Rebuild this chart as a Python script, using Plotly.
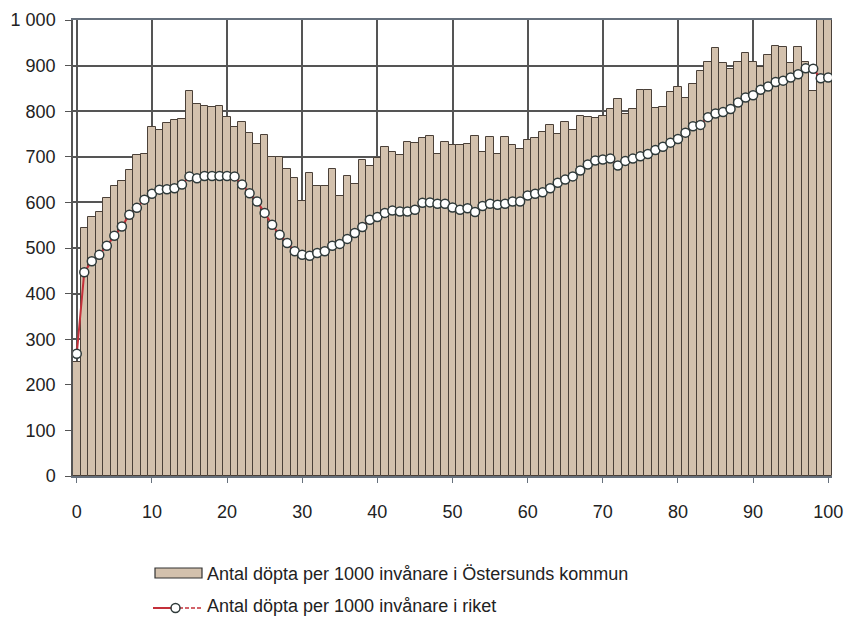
import plotly.graph_objects as go

ages = list(range(0, 101))

ostersund = [
    250, 544, 569, 580, 609, 635, 646, 672, 704, 707,
    766, 758, 775, 781, 782, 845, 815, 812, 809, 812,
    788, 765, 777, 753, 728, 748, 699, 699, 673, 653,
    602, 664, 636, 636, 674, 613, 659, 640, 693, 679,
    698, 722, 711, 704, 733, 731, 741, 746, 707, 733,
    725, 725, 729, 746, 711, 744, 707, 744, 725, 718,
    737, 742, 755, 769, 749, 776, 758, 789, 788, 786,
    789, 804, 826, 793, 804, 847, 847, 807, 810, 842,
    854, 830, 859, 889, 907, 939, 906, 893, 907, 928,
    907, 896, 924, 944, 941, 906, 941, 907, 845, 1080,
    1080,
]

riket = [
    268, 447, 471, 485, 505, 527, 547, 573, 588, 606,
    619, 628, 629, 631, 639, 657, 653, 658, 658, 658,
    658, 657, 639, 620, 602, 577, 551, 529, 511, 493,
    485, 483, 489, 493, 505, 509, 520, 533, 546, 562,
    568, 577, 582, 580, 580, 584, 599, 600, 597, 597,
    589, 584, 587, 579, 592, 597, 595, 597, 602, 602,
    615, 619, 622, 631, 643, 650, 657, 670, 683, 692,
    694, 696, 681, 691, 696, 701, 706, 715, 722, 731,
    739, 753, 767, 770, 787, 795, 798, 805, 819, 830,
    835, 847, 854, 864, 867, 874, 881, 894, 893, 872,
    874,
]

y_tickvals = [0, 100, 200, 300, 400, 500, 600, 700, 800, 900, 1000]
y_ticktext = ["0", "100", "200", "300", "400", "500", "600", "700", "800", "900", "1 000"]
x_tickvals = [0, 10, 20, 30, 40, 50, 60, 70, 80, 90, 100]

legend_bar = "Antal döpta per 1000 invånare i Östersunds kommun"
legend_line = "Antal döpta per 1000 invånare i riket"

FONT = "Liberation Sans, Arial, sans-serif"
BAR_FILL = "#d3c1ad"
BAR_EDGE = "#4a4038"
GRID = "#555555"
RED = "#c4303a"

# page offset (browser body margin)
OFF = 8
W, H = 852 - OFF, 620 - OFF
# plot area in page pixels: left 73, right 832, top 20, bottom 476
L, R, T, B = 73 - OFF, W - (832 - OFF), 20 - OFF, H - (476 - OFF)
pw, ph = W - L - R, H - T - B

def px(x):
    return (x - OFF - L) / pw

def py(y):
    return (H - B - (y - OFF)) / ph

fig = go.Figure()
fig.add_trace(go.Bar(
    x=ages, y=ostersund, name=legend_bar,
    marker=dict(color=BAR_FILL, line=dict(color=BAR_EDGE, width=1)),
    width=1.0, showlegend=False,
))
fig.add_trace(go.Scatter(
    x=ages, y=riket, name=legend_line, mode="lines+markers",
    line=dict(color=RED, width=2),
    marker=dict(symbol="circle", size=9, color="white",
                line=dict(color="#2f3a3a", width=1.5)),
    showlegend=False,
))

fig.update_layout(
    width=W, height=H, autosize=False,
    margin=dict(l=L, r=R, t=T, b=B, autoexpand=False),
    paper_bgcolor="white", plot_bgcolor="white",
    font=dict(family=FONT, size=18, color="#222222"),
    bargap=0,
    xaxis=dict(
        range=[-0.5, 100.5], tickvals=x_tickvals, automargin=False,
        ticklabeloverflow="allow", ticklabelstandoff=14,
        showgrid=True, gridcolor=GRID, gridwidth=1.5,
        showline=True, linecolor="#66707c", linewidth=1.5, mirror=True,
        ticks="outside", ticklen=5, tickcolor="#66707c",
        zeroline=False, tickfont=dict(size=18),
    ),
    yaxis=dict(
        range=[0, 1000], tickvals=y_tickvals, ticktext=y_ticktext, automargin=False,
        ticklabeloverflow="allow", ticklabelstandoff=6,
        showgrid=True, gridcolor=GRID, gridwidth=1.5,
        showline=True, linecolor="#555555", linewidth=1.5,
        ticks="outside", ticklen=6, tickcolor="#555555",
        zeroline=False, tickfont=dict(size=18),
    ),
)

# custom legend below the plot
fig.add_shape(type="rect", xref="paper", yref="paper",
              x0=px(155), x1=px(202), y0=py(578), y1=py(568),
              fillcolor=BAR_FILL, line=dict(color="#333333", width=1.2))
fig.add_shape(type="line", xref="paper", yref="paper",
              x0=px(153), x1=px(172), y0=py(608), y1=py(608),
              line=dict(color=RED, width=2))
fig.add_shape(type="line", xref="paper", yref="paper",
              x0=px(179), x1=px(203), y0=py(608), y1=py(608),
              line=dict(color=RED, width=1.5, dash="4px,2px"))
fig.add_shape(type="circle", xref="paper", yref="paper",
              x0=px(171), x1=px(180), y0=py(612.5), y1=py(603.5),
              fillcolor="white", line=dict(color="#2f3a3a", width=1.5))

fig.add_annotation(xref="paper", yref="paper", x=px(205), y=py(574),
                   text=legend_bar, showarrow=False, xanchor="left", yanchor="middle",
                   font=dict(family=FONT, size=18, color="#222222"))
fig.add_annotation(xref="paper", yref="paper", x=px(205), y=py(606),
                   text=legend_line, showarrow=False, xanchor="left", yanchor="middle",
                   font=dict(family=FONT, size=18, color="#222222"))

fig.write_html("out.html", config={"responsive": False})
